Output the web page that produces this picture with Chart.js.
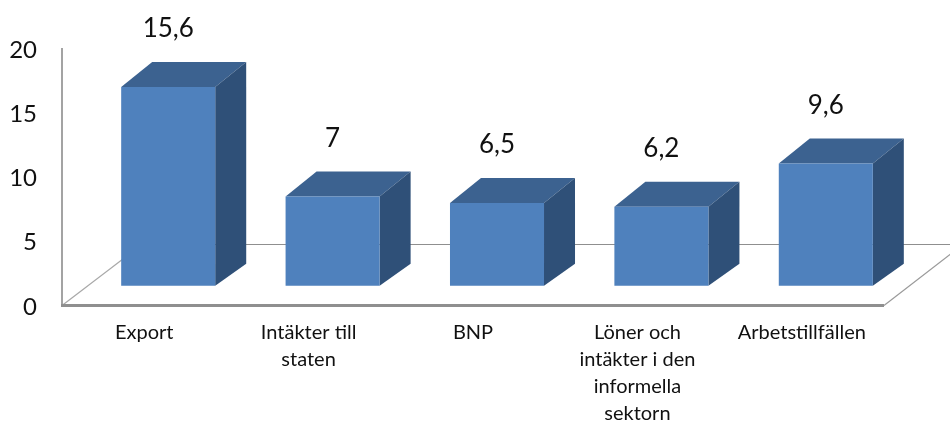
<!DOCTYPE html>
<html>
<head>
<meta charset="utf-8">
<style>
html,body{margin:0;padding:0;background:#fff;overflow:hidden}
#wrap{width:950px;height:421px}
canvas{filter:blur(0.45px)}
</style>
<script src="https://cdn.jsdelivr.net/npm/chart.js@4"></script>
</head>
<body>
<div id="wrap"><canvas id="c" width="950" height="421"></canvas></div>
<script>
const categories = [["Export"],["Intäkter till","staten"],["BNP"],["Löner och","intäkter i den","informella","sektorn"],["Arbetstillfällen"]];
const values = [15.6,7,6.5,6.2,9.6];
const valueLabels = ["15,6","7","6,5","6,2","9,6"];
const FONT = 'Lato, "Open Sans", sans-serif';
const FRONT = '#4f81bd', TOP = '#3c6290', SIDE = '#2f5078', TEXT = '#111111';
const SHIFT_X = 24, SHIFT_Y = -21.3;      // bars stand behind the floor's front edge
const DEPTH_X = 31, DEPTH_TOP = 25, DEPTH_BOTTOM = 22;

const poly = (ctx, pts, fill) => {
  ctx.beginPath();
  pts.forEach((p,i)=> i ? ctx.lineTo(p[0],p[1]) : ctx.moveTo(p[0],p[1]));
  ctx.closePath(); ctx.fillStyle = fill; ctx.fill();
};
const line = (ctx, x0,y0,x1,y1,color,w) => {
  ctx.beginPath(); ctx.moveTo(x0,y0); ctx.lineTo(x1,y1);
  ctx.strokeStyle = color; ctx.lineWidth = w; ctx.stroke();
};

const scene3d = {
  id:'scene3d',
  beforeDatasetsDraw(chart){
    const {ctx, scales:{x,y}} = chart;
    const floorY = y.getPixelForValue(0) - 1.5;
    const backY = floorY - 61;
    ctx.save();
    line(ctx, x.left, y.getPixelForValue(20)-2, x.left, floorY, '#a3a3a3', 2);
    line(ctx, x.left, floorY, x.left+80, backY, '#a8a8a8', 1.2);
    line(ctx, x.left+80, backY, chart.width, backY, '#8f8f8f', 1.2);
    line(ctx, x.right, floorY, x.right+79, backY, '#9a9a9a', 1.2);
    line(ctx, x.left-1, floorY, x.right, floorY, '#8f8f8f', 3);
    ctx.translate(SHIFT_X, SHIFT_Y);
    chart.getDatasetMeta(0).data.forEach(b=>{
      const l=b.x-b.width/2, r=b.x+b.width/2;
      poly(ctx,[[l,b.y],[l+DEPTH_X,b.y-DEPTH_TOP],[r+DEPTH_X,b.y-DEPTH_TOP],[r,b.y]],TOP);
      poly(ctx,[[r,b.y],[r+DEPTH_X,b.y-DEPTH_TOP],[r+DEPTH_X,b.base-DEPTH_BOTTOM],[r,b.base]],SIDE);
    });
  },
  afterDatasetsDraw(chart){
    const {ctx} = chart;
    ctx.restore();
    ctx.save();
    ctx.font = '26px '+FONT;
    ctx.fillStyle = TEXT;
    ctx.textAlign = 'center';
    ctx.textBaseline = 'middle';
    chart.getDatasetMeta(0).data.forEach((b,i)=>{
      ctx.fillText(valueLabels[i], b.x+SHIFT_X, b.y+SHIFT_Y-58);
    });
    ctx.restore();
  }
};

new Chart(document.getElementById('c'),{
  type:'bar',
  data:{labels:categories,datasets:[{
    data:values, yAxisID:'y1', backgroundColor:FRONT, borderWidth:0,
    barPercentage:0.572, categoryPercentage:1, clip:false
  }]},
  plugins:[scene3d],
  options:{
    responsive:false, animation:false, events:[],
    layout:{padding:{top:50,right:66,left:0,bottom:0}},
    plugins:{legend:{display:false},tooltip:{enabled:false},title:{display:false}},
    scales:{
      x:{
        grid:{display:false,drawTicks:false}, border:{display:false},
        ticks:{autoSkip:false,maxRotation:0,minRotation:0,padding:12,color:TEXT,
               font:{family:FONT,size:20,lineHeight:'27px'}},
        afterFit(s){s.height=114;}
      },
      y:{
        min:0,max:20,
        grid:{display:false,drawTicks:false}, border:{display:false},
        ticks:{stepSize:5,padding:25,color:TEXT,font:{family:FONT,size:24}},
        afterFit(s){s.width=62;}
      },
      y1:{display:false,min:0,max:20.17}
    }
  }
});
</script>
</body>
</html>
